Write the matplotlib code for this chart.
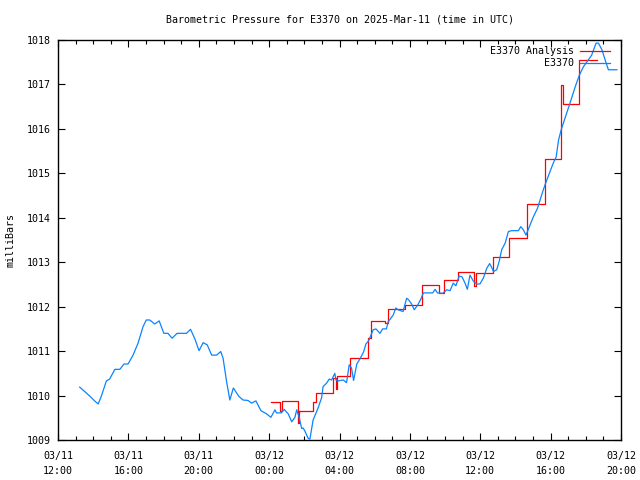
import pandas as pd
import matplotlib
matplotlib.use("Agg")
import matplotlib.pyplot as plt
import matplotlib.dates as mdates

obs_time = [
    "03-11 13:14", "03-11 13:48", "03-11 14:05", "03-11 14:17", "03-11 14:28", "03-11 14:45",
    "03-11 14:56", "03-11 15:14", "03-11 15:31", "03-11 15:45", "03-11 15:59", "03-11 16:16",
    "03-11 16:33", "03-11 16:50", "03-11 17:01", "03-11 17:13", "03-11 17:30", "03-11 17:45",
    "03-11 18:01", "03-11 18:15", "03-11 18:29", "03-11 18:46", "03-11 19:18", "03-11 19:32",
    "03-11 19:47", "03-11 20:01", "03-11 20:15", "03-11 20:29", "03-11 20:44", "03-11 21:01",
    "03-11 21:15", "03-11 21:23", "03-11 21:35", "03-11 21:46", "03-11 21:58", "03-11 22:17",
    "03-11 22:31", "03-11 22:48", "03-11 23:00", "03-11 23:15", "03-11 23:32", "03-11 23:51",
    "03-12 00:06", "03-12 00:20", "03-12 00:25", "03-12 00:42", "03-12 00:51", "03-12 01:05",
    "03-12 01:17", "03-12 01:28", "03-12 01:34", "03-12 01:42", "03-12 01:51", "03-12 01:56",
    "03-12 02:02", "03-12 02:13", "03-12 02:19", "03-12 02:30", "03-12 02:47", "03-12 02:59",
    "03-12 03:04", "03-12 03:16", "03-12 03:25", "03-12 03:33", "03-12 03:44", "03-12 03:48",
    "03-12 03:56", "03-12 04:13", "03-12 04:24", "03-12 04:33", "03-12 04:41", "03-12 04:48",
    "03-12 04:59", "03-12 05:11", "03-12 05:22", "03-12 05:30", "03-12 05:39", "03-12 05:44",
    "03-12 05:55", "03-12 06:04", "03-12 06:18", "03-12 06:27", "03-12 06:40", "03-12 06:46",
    "03-12 06:55", "03-12 07:03", "03-12 07:12", "03-12 07:20", "03-12 07:37", "03-12 07:42",
    "03-12 07:49", "03-12 07:55", "03-12 08:06", "03-12 08:15", "03-12 08:27", "03-12 08:38",
    "03-12 08:46", "03-12 09:18", "03-12 09:26", "03-12 09:34", "03-12 09:52", "03-12 10:06",
    "03-12 10:17", "03-12 10:28", "03-12 10:37", "03-12 10:48", "03-12 10:58", "03-12 11:08",
    "03-12 11:16", "03-12 11:25", "03-12 11:36", "03-12 11:48", "03-12 11:59", "03-12 12:11",
    "03-12 12:22", "03-12 12:32", "03-12 12:40", "03-12 12:45", "03-12 12:56", "03-12 13:05",
    "03-12 13:13", "03-12 13:25", "03-12 13:36", "03-12 13:47", "03-12 14:10", "03-12 14:18",
    "03-12 14:27", "03-12 14:36", "03-12 14:50", "03-12 15:01", "03-12 15:15", "03-12 15:24",
    "03-12 15:35", "03-12 15:47", "03-12 15:58", "03-12 16:09", "03-12 16:19", "03-12 16:27",
    "03-12 16:36", "03-12 16:49", "03-12 17:06", "03-12 17:24", "03-12 17:38", "03-12 17:52",
    "03-12 18:08", "03-12 18:20", "03-12 18:35", "03-12 18:43", "03-12 18:55", "03-12 19:06",
    "03-12 19:17", "03-12 19:46",
]
obs_mb = [
    1010.19, 1009.99, 1009.88, 1009.81, 1009.99, 1010.33,
    1010.37, 1010.59, 1010.59, 1010.71, 1010.71, 1010.91,
    1011.18, 1011.55, 1011.70, 1011.70, 1011.61, 1011.68,
    1011.40, 1011.40, 1011.29, 1011.40, 1011.40, 1011.49,
    1011.27, 1011.01, 1011.19, 1011.14, 1010.91, 1010.91,
    1010.99, 1010.84, 1010.31, 1009.90, 1010.17, 1009.98,
    1009.90, 1009.89, 1009.83, 1009.88, 1009.66, 1009.59,
    1009.51, 1009.68, 1009.61, 1009.61, 1009.69, 1009.59,
    1009.41, 1009.51, 1009.68, 1009.52, 1009.26, 1009.27,
    1009.20, 1009.04, 1009.02, 1009.45, 1009.72, 1009.95,
    1010.20, 1010.28, 1010.37, 1010.35, 1010.50, 1010.35,
    1010.33, 1010.35, 1010.29, 1010.69, 1010.62, 1010.34,
    1010.71, 1010.84, 1010.98, 1011.16, 1011.23, 1011.31,
    1011.48, 1011.50, 1011.40, 1011.50, 1011.50, 1011.66,
    1011.74, 1011.81, 1011.97, 1011.93, 1011.89, 1012.02,
    1012.19, 1012.16, 1012.06, 1011.93, 1012.04, 1012.18,
    1012.31, 1012.31, 1012.39, 1012.31, 1012.30, 1012.38,
    1012.36, 1012.53, 1012.47, 1012.69, 1012.67, 1012.53,
    1012.39, 1012.71, 1012.58, 1012.51, 1012.51, 1012.65,
    1012.86, 1012.97, 1012.87, 1012.79, 1012.83, 1013.03,
    1013.28, 1013.43, 1013.69, 1013.71, 1013.71, 1013.80,
    1013.73, 1013.61, 1013.84, 1014.02, 1014.21, 1014.40,
    1014.63, 1014.85, 1015.04, 1015.23, 1015.37, 1015.75,
    1015.98, 1016.24, 1016.58, 1016.95, 1017.21, 1017.40,
    1017.55, 1017.66, 1017.93, 1017.93, 1017.78, 1017.55,
    1017.33, 1017.33,
]

# analysis values (step line)
ana_time = [
    "03-12 00:06", "03-12 00:38", "03-12 00:43", "03-12 01:38", "03-12 01:43", "03-12 02:31",
    "03-12 02:41", "03-12 03:39", "03-12 03:47", "03-12 03:53", "03-12 04:37", "03-12 05:38",
    "03-12 05:46", "03-12 06:35", "03-12 06:44", "03-12 07:42", "03-12 08:40", "03-12 09:38",
    "03-12 09:56", "03-12 10:45", "03-12 11:39", "03-12 11:46", "03-12 12:44", "03-12 13:39",
    "03-12 14:40", "03-12 15:41", "03-12 16:37", "03-12 16:43", "03-12 17:37", "03-12 18:39",
]
ana_mb = [
    1009.85, 1009.66, 1009.88, 1009.38, 1009.65, 1009.86,
    1010.06, 1010.40, 1010.14, 1010.44, 1010.84, 1011.29,
    1011.68, 1011.64, 1011.94, 1012.04, 1012.49, 1012.30,
    1012.60, 1012.77, 1012.47, 1012.75, 1013.12, 1013.54,
    1014.30, 1015.33, 1016.99, 1016.56, 1017.55, 1017.55,
]

obs_t = pd.to_datetime(["2025-" + s for s in obs_time])
ana_t = pd.to_datetime(["2025-" + s for s in ana_time])

plt.rcParams["font.family"] = "DejaVu Sans Mono"
plt.rcParams["font.size"] = 7.2

fig = plt.figure(figsize=(6.4, 4.8), dpi=100)
ax = fig.add_axes([58 / 640, 40 / 480, 563 / 640, 400 / 480])

ax.plot(ana_t, ana_mb, color="#ff0000", lw=0.9, drawstyle="steps-post", label="E3370 Analysis")
ax.plot(obs_t, obs_mb, color="#0a84ff", lw=0.9, label="E3370")

ax.set_xlim(pd.Timestamp("2025-03-11 12:00"), pd.Timestamp("2025-03-12 20:00"))
ax.set_ylim(1009, 1018)
ax.set_yticks(range(1009, 1019))

ax.xaxis.set_major_locator(mdates.HourLocator(byhour=range(0, 24, 4)))
ax.xaxis.set_minor_locator(mdates.HourLocator())
ax.xaxis.set_major_formatter(mdates.DateFormatter("%m/%d\n%H:%M"))

ax.tick_params(which="both", direction="in", top=True, right=True, color="black")
ax.tick_params(which="major", length=5, width=0.8, pad=8)
ax.tick_params(which="minor", length=3, width=0.8)
ax.tick_params(axis="y", pad=5)
for lab in ax.get_xticklabels():
    lab.set_linespacing(1.6)
for sp in ax.spines.values():
    sp.set_linewidth(1.0)

ax.set_ylabel("milliBars", labelpad=8)
fig.text(339.5 / 640, 1 - 19 / 480, "Barometric Pressure for E3370 on 2025-Mar-11 (time in UTC)",
         ha="center", va="center")

ax.legend(loc="upper right", frameon=False, markerfirst=False, handlelength=3.0,
          handletextpad=0.6, labelspacing=0.2, borderaxespad=0.25,
          bbox_to_anchor=(0.992, 1.0))

fig.savefig("out.png", dpi=100)
